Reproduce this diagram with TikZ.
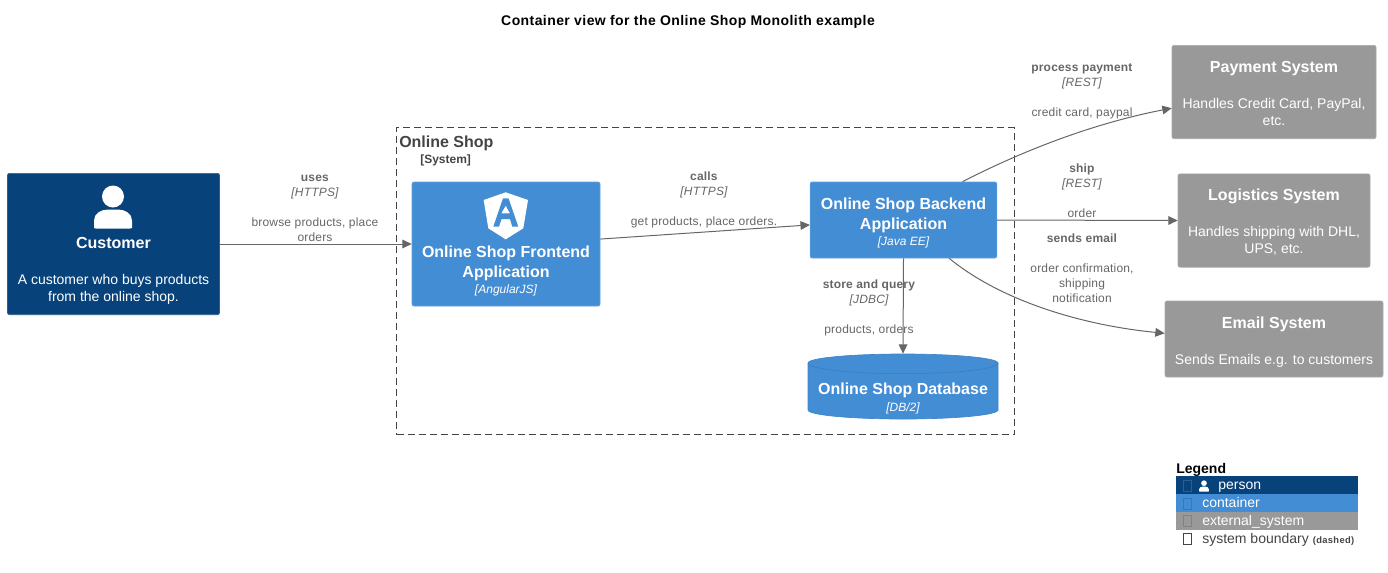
\documentclass[tikz,border=0pt]{standalone}
\usepackage{fontspec}
\setmainfont{Liberation Sans}
\usetikzlibrary{arrows.meta,positioning,calc,shapes.geometric}
\definecolor{personblue}{HTML}{08427B}
\definecolor{contblue}{HTML}{438DD5}
\definecolor{extgray}{HTML}{999999}
\definecolor{relgray}{HTML}{666666}
\definecolor{boundgray}{HTML}{444444}
\newcommand{\boxtitle}[1]{{\fontsize{12}{15}\selectfont\bfseries #1}}
\newcommand{\boxtech}[1]{{\fontsize{9}{11}\selectfont\itshape [#1]}}
\newcommand{\reltech}[1]{{\itshape [#1]}}
\tikzset{
	c4box/.style={rounded corners=1.5pt,text=white,align=center,inner sep=0pt,line width=.5pt,
		font=\fontsize{10.5}{12.75}\selectfont},
	customerbox/.style={c4box,fill=personblue,draw=personblue!85!white},
	containerbox/.style={c4box,fill=contblue,draw=contblue!85!white},
	externalbox/.style={c4box,fill=extgray,draw=extgray!85!white},
	reltext/.style={text=relgray,align=center,inner sep=0pt,font=\fontsize{9}{11.25}\selectfont\addfontfeature{LetterSpace=1.5}},
	rel/.style={draw=relgray,line width=.75pt,-{Triangle[length=7pt,width=6.5pt]}},
	legendrow/.style={anchor=north west,minimum height=13.1pt,inner ysep=0pt,align=left,
		text height=8pt,text depth=2pt,text=white,font=\fontsize{10.5}{12}\selectfont},
	personicon/.pic={
		\fill[white] (0,-32) circle[radius=11];
		\fill[white] (-19,-1) -- (-19,-8) .. controls (-19,-15) and (-12,-19) .. (-5,-19) -- (5,-19)
			.. controls (12,-19) and (19,-15) .. (19,-8) -- (19,-1) .. controls (19,0) and (18,0) .. (17,0)
			-- (-17,0) .. controls (-18,0) and (-19,0) .. (-19,-1) -- cycle;
	}
}
\begin{document}
\begin{tikzpicture}[x=.75pt,y=-.75pt]
	\useasboundingbox (0,0) rectangle (1388,572);
	\node[font=\fontsize{10.5}{12}\selectfont\bfseries\addfontfeature{LetterSpace=3}] (title) at (688,22) {Container view for the Online Shop Monolith example};

	% system boundary
	\node[draw=boundgray,line width=.75pt,dash pattern=on 5.25pt off 3pt,minimum width=463.5pt,minimum height=230pt,inner sep=0pt] (shop) at (705.5,281.25) {};
	\node[anchor=west,text=boundgray,inner sep=0pt,font=\fontsize{12}{14}\selectfont\bfseries] (shopname) at (399,143) {Online Shop};
	\node[anchor=west,text=boundgray,inner sep=0pt,font=\fontsize{9}{11}\selectfont\bfseries] (shoptype) at (420,160) {[System]};

	% database drum, its text is in the node on top
	\draw[fill=contblue,draw=contblue!94!black,line width=.5pt] (808,363) arc[start angle=180,end angle=0,x radius=71.25pt,y radius=6.75pt]
		-- (998,410) arc[start angle=0,end angle=-180,x radius=71.25pt,y radius=6.75pt] -- cycle;
	\draw[contblue!88!black,line width=.4pt] (808,363) arc[start angle=180,end angle=360,x radius=71.25pt,y radius=8pt];

	% boxes
	\node[customerbox,minimum width=159pt,minimum height=106pt] (customer) at (113.5,244) {\rule{0pt}{39pt}\\[-3pt]\boxtitle{Customer}\\[14.25pt]A customer who buys products\\from the online shop.};
	\node[containerbox,minimum width=141pt,minimum height=93pt] (frontend) at (506,244) {\rule{0pt}{37.5pt}\\[-1pt]\boxtitle{Online Shop Frontend}\\[2.25pt]\boxtitle{Application}\\[-1pt]\boxtech{AngularJS}};
	\node[containerbox,minimum width=140pt,minimum height=57pt] (backend) at (903.5,220) {\rule{0pt}{13pt}\boxtitle{Online Shop Backend}\\[2.25pt]\boxtitle{Application}\\[-1pt]\boxtech{Java EE}};
	\node[c4box,minimum width=142.5pt,minimum height=48.75pt] (database) at (903,386.5) {\rule{0pt}{27pt}\boxtitle{Online Shop Database}\\\boxtech{DB/2}};
	\node[externalbox,minimum width=153pt,minimum height=70pt] (payment) at (1274,92) {\rule{0pt}{11pt}\boxtitle{Payment System}\\[14.25pt]Handles Credit Card, PayPal,\\etc.};
	\node[externalbox,minimum width=144pt,minimum height=70pt] (logistics) at (1274,220.5) {\rule{0pt}{11pt}\boxtitle{Logistics System}\\[14.25pt]Handles shipping with DHL,\\UPS, etc.};
	\node[externalbox,minimum width=163.5pt,minimum height=57pt] (email) at (1274,339) {\rule{0pt}{13.5pt}\boxtitle{Email System}\\[14.25pt]Sends Emails e.g. to customers};

	% icons
	\pic at (113,228.5) {personicon};
	\fill[white] (505.7,192.3) -- (528,200) -- (523.3,228.3) -- (505.7,239.3) -- (488.3,228.3) -- (483.7,200) -- cycle;
	\fill[contblue,even odd rule] (503,198.3) -- (508.5,198.3) -- (518.3,226.7) -- (512.3,226.7) -- (510,219) -- (501.5,219) -- (499,226.7) -- (493.3,226.7) -- cycle
		(505.7,205.5) -- (510,213.3) -- (501.3,213.3) -- cycle;

	% connectors
	\draw[rel] (customer.east) -- (frontend.west);
	\draw[rel] (frontend.3.65) -- (backend.183.67);
	\draw[rel] (backend.east) -- (logistics.west);
	\draw[rel] (backend.south) -- (database.north);
	\draw[rel] (backend.33) .. controls (1030,147) and (1100,122) .. (payment.189.5);
	\draw[rel] (backend.-40.5) .. controls (1000,300) and (1080,325) .. (email.177.9);

	% connector labels
	\node[reltext,anchor=north] (useslabel) at (315,174.5) {\textbf{uses}\\\reltech{HTTPS}\\[11.25pt]browse products, place\\orders};
	\node[reltext,anchor=north] (callslabel) at (704,172) {\textbf{calls}\\\reltech{HTTPS}\\[11.25pt]get products, place orders.};
	\node[reltext,anchor=north] (storelabel) at (869,280) {\textbf{store and query}\\\reltech{JDBC}\\[11.25pt]products, orders};
	\node[reltext,anchor=north] (paylabel) at (1082,63) {\textbf{process payment}\\\reltech{REST}\\[11.25pt]credit card, paypal};
	\node[reltext,anchor=north] (shiplabel) at (1082,164) {\textbf{ship}\\\reltech{REST}\\[11.25pt]order};
	\node[reltext,anchor=north] (maillabel) at (1082,234) {\textbf{sends email}\\[11.25pt]order confirmation,\\shipping\\notification};

	% legend
	\node[anchor=west,inner sep=0pt,font=\fontsize{10.5}{12}\selectfont\bfseries] (legendname) at (1176,470) {Legend};
	\node[legendrow,fill=personblue,inner xsep=31.5pt,text width=73.5pt] (lgperson) at (1176,476) {person};
	\node[legendrow,fill=contblue,inner xsep=19.5pt,text width=97.5pt] (lgcontainer) at (1176,494) {container};
	\node[legendrow,fill=extgray,inner xsep=19.5pt,text width=97.5pt] (lgexternal) at (1176,512) {external\_system};
	\node[anchor=west,inner sep=0pt,text=boundgray,font=\fontsize{10.5}{12}\selectfont] (lgboundary) at (1202,539.5) {system boundary {\fontsize{7}{8}\selectfont\bfseries\addfontfeature{LetterSpace=4}(dashed)}};
	\draw[personblue!85!white,line width=.5pt] (1183,480) rectangle (1191,491);
	\draw[contblue!85!black,line width=.5pt] (1183,498) rectangle (1191,509);
	\draw[extgray!85!black,line width=.5pt] (1183,515) rectangle (1191,526);
	\draw[boundgray,line width=.6pt] (1183,533) rectangle (1191,544);
	\pic[scale=.26] at (1204,491.5) {personicon};
\end{tikzpicture}
\end{document}
